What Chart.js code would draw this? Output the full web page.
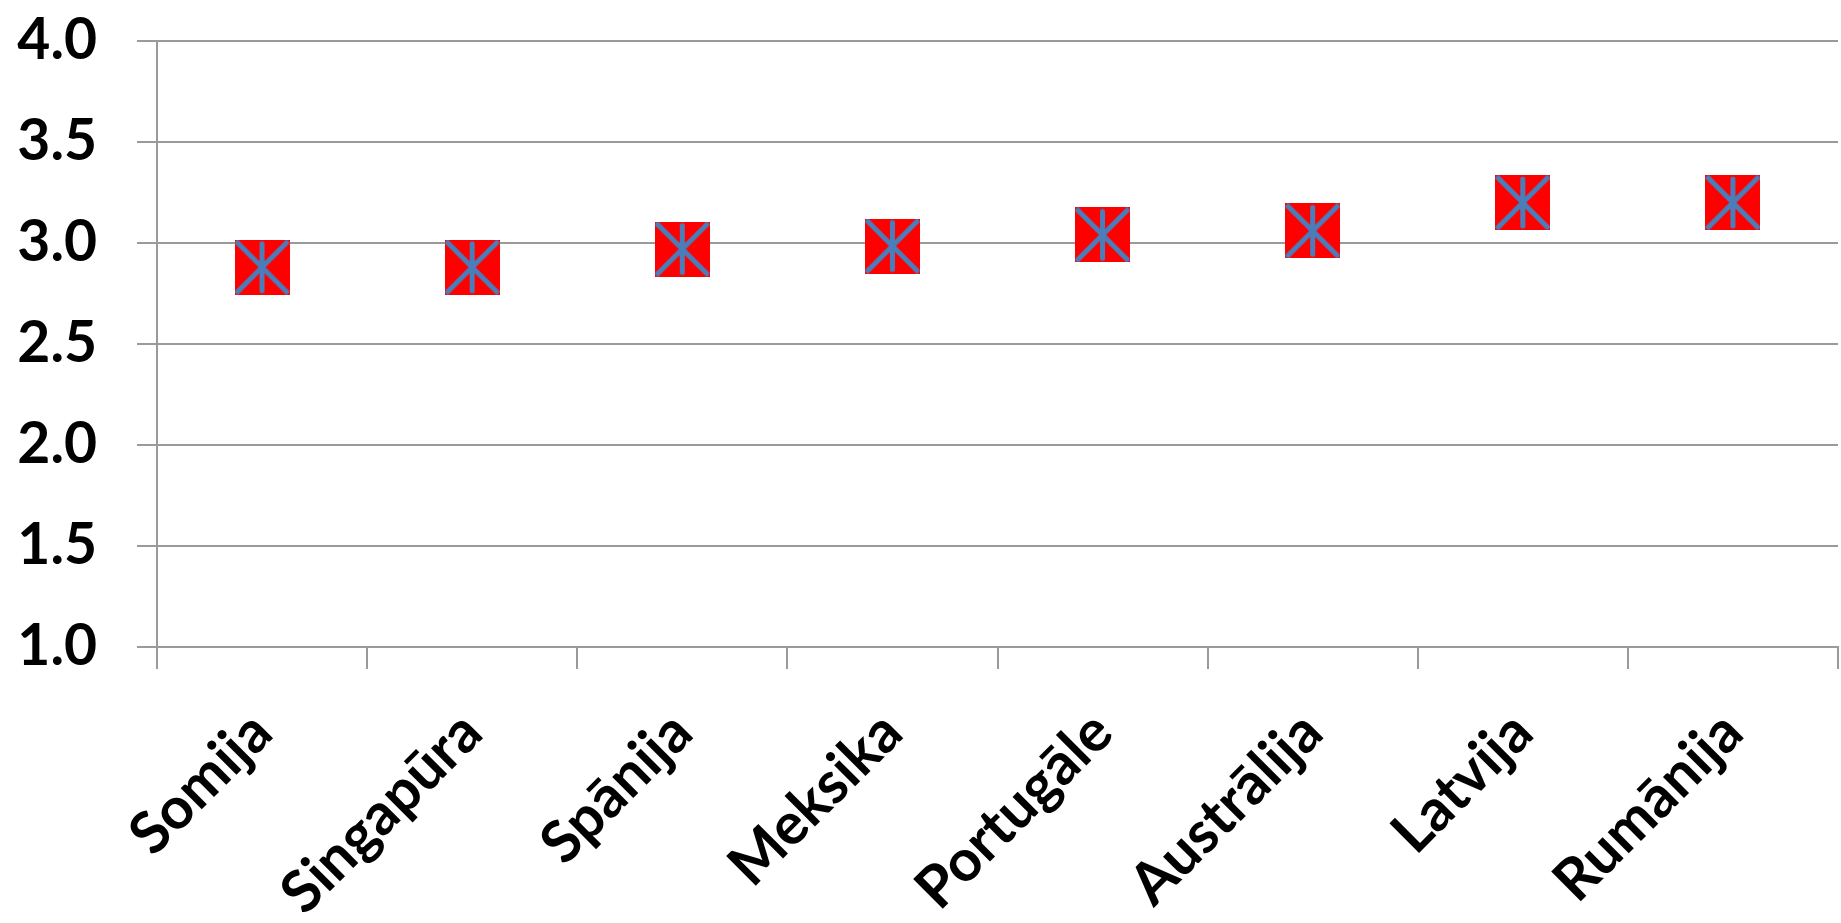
<!DOCTYPE html>
<html>
<head>
<meta charset="utf-8">
<script src="https://cdn.jsdelivr.net/npm/chart.js@4.4.1/dist/chart.umd.min.js"></script>
<style>
  html, body { margin: 0; padding: 0; background: #fff; }
  #wrap { width: 1841px; height: 923px; position: relative; }
</style>
</head>
<body>
<div id="wrap"><canvas id="chart"></canvas></div>
<script>
// Dati
const valstis = ["Somija", "Singapūra", "Spānija", "Meksika", "Portugāle", "Austrālija", "Latvija", "Rumānija"];
const vertibas = [2.88, 2.88, 2.97, 2.985, 3.04, 3.06, 3.2, 3.2];
const asMin = 1.0;
const asMax = 4.0;
const asSolis = 0.5;

// Marķieris: sarkans kvadrāts ar zilu zvaigznīti
function makeMarker(size) {
  const c = document.createElement("canvas");
  c.width = size;
  c.height = size;
  const g = c.getContext("2d");
  g.fillStyle = "#FF0000";
  g.fillRect(0, 0, size, size);
  g.strokeStyle = "#4A7EBB";
  g.lineWidth = 5;
  g.lineCap = "round";
  const p = 3;
  g.beginPath();
  g.moveTo(p, p);
  g.lineTo(size - p, size - p);
  g.moveTo(size - p, p);
  g.lineTo(p, size - p);
  g.moveTo(size / 2, p + 1);
  g.lineTo(size / 2, size - p - 1);
  g.stroke();
  return c;
}

const marker = makeMarker(55);
const fontFamily = "Lato, 'Open Sans', 'DejaVu Sans', sans-serif";
const gridColor = "#9a9a9a";

const ctx = document.getElementById("chart").getContext("2d");
const chart = new Chart(ctx, {
  type: "line",
  data: {
    labels: valstis,
    datasets: [
      {
        data: vertibas,
        showLine: false,
        pointStyle: marker,
        pointRadius: 28,
        pointHoverRadius: 28,
        clip: false,
      },
    ],
  },
  options: {
    responsive: true,
    maintainAspectRatio: false,
    animation: false,
    layout: {
      autoPadding: false,
      padding: { top: 41, right: 3, left: 0, bottom: 0 },
    },
    plugins: {
      legend: { display: false },
      tooltip: { enabled: false },
    },
    scales: {
      x: {
        offset: true,
        grid: {
          offset: true,
          drawOnChartArea: false,
          drawTicks: true,
          tickLength: 22,
          color: gridColor,
          lineWidth: 2,
        },
        border: { display: true, color: gridColor, width: 2 },
        ticks: {
          autoSkip: false,
          maxRotation: 45,
          minRotation: 45,
          padding: 29,
          color: "#000",
          font: { family: fontFamily, size: 58, weight: "bold" },
        },
        afterFit: (scale) => {
          scale.height = 276;
          scale.paddingLeft = 0;
          scale.paddingRight = 0;
        },
      },
      y: {
        min: asMin,
        max: asMax,
        grid: {
          color: gridColor,
          lineWidth: 2,
          tickLength: 20,
        },
        border: { display: true, color: gridColor, width: 2 },
        ticks: {
          stepSize: asSolis,
          padding: 40,
          color: "#000",
          font: { family: fontFamily, size: 57, weight: "bold" },
          callback: (v) => v.toFixed(1),
        },
        afterFit: (scale) => {
          scale.width = 157;
          scale.paddingTop = 0;
          scale.paddingBottom = 0;
        },
      },
    },
  },
});
</script>
</body>
</html>
